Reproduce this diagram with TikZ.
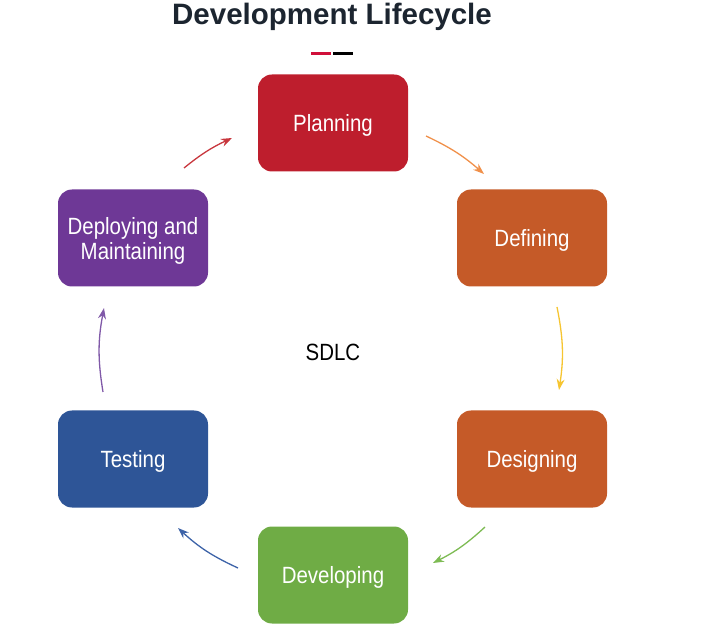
\documentclass[tikz,border=0pt]{standalone}
\usepackage{fontspec}
\setmainfont{Liberation Sans}
\newfontfamily\narrowfont[FakeStretch=0.87]{Liberation Sans}
\usetikzlibrary{arrows.meta}

\definecolor{planred}{HTML}{BE1E2D}
\definecolor{deforange}{HTML}{C55A28}
\definecolor{devgreen}{HTML}{6FAC45}
\definecolor{testblue}{HTML}{2E5597}
\definecolor{deppurple}{HTML}{6E3896}
\definecolor{titleink}{HTML}{1C2530}
\definecolor{dashred}{HTML}{D0103A}

\begin{document}
\begin{tikzpicture}[
    x=1pt, y=-1pt,
    phase/.style={rounded corners=14pt, minimum width=150pt,
        minimum height=97pt, inner sep=0pt, text=white, align=center,
        text depth=0pt, font=\narrowfont\fontsize{23.5}{25}\selectfont},
    flow/.style={line width=1.3pt, -{Stealth[length=11pt,width=8pt]}, bend left=#1}
]
    \useasboundingbox (0,0) rectangle (724,631);

    \node[anchor=base, text=titleink, font=\bfseries\fontsize{29.5}{32}\selectfont]
        (title) at (332,25) {Development Lifecycle};
    \fill[dashred] (311,52) rectangle (331,55);
    \fill[black] (333,52) rectangle (353,55);

    \node[phase, fill=planred] (plan) at (333,123) {Planning};
    \node[phase, fill=deforange] (def) at (532,238) {Defining};
    \node[phase, fill=deforange] (des) at (532,459) {Designing};
    \node[phase, fill=devgreen] (dev) at (333,575) {Developing};
    \node[phase, fill=testblue] (test) at (133,459) {Testing};
    \node[phase, fill=deppurple] (dep) at (133,238) {Deploying and\\Maintaining};
    \node[font=\narrowfont\fontsize{23.5}{25}\selectfont] (sdlc) at (333,352) {SDLC};

    \coordinate (a1) at (184,168);  \coordinate (b1) at (232,138);
    \coordinate (a2) at (426,136);  \coordinate (b2) at (484,174);
    \coordinate (a3) at (557,307);  \coordinate (b3) at (559,390);
    \coordinate (a4) at (485,527);  \coordinate (b4) at (433,563);
    \coordinate (a5) at (238,568);  \coordinate (b5) at (178,528);
    \coordinate (a6) at (103,392);  \coordinate (b6) at (104,308);

    \draw[flow=7, draw={rgb,255:red,200;green,55;blue,62}] (a1) to (b1);
    \draw[flow=8, draw={rgb,255:red,240;green,144;blue,74}] (a2) to (b2);
    \draw[flow=10, draw={rgb,255:red,246;green,197;blue,49}] (a3) to (b3);
    \draw[flow=8, draw={rgb,255:red,125;green,187;blue,83}] (a4) to (b4);
    \draw[flow=9, draw={rgb,255:red,61;green,99;blue,168}] (a5) to (b5);
    \draw[flow=10, draw={rgb,255:red,128;green,89;blue,168}] (a6) to (b6);
\end{tikzpicture}
\end{document}
